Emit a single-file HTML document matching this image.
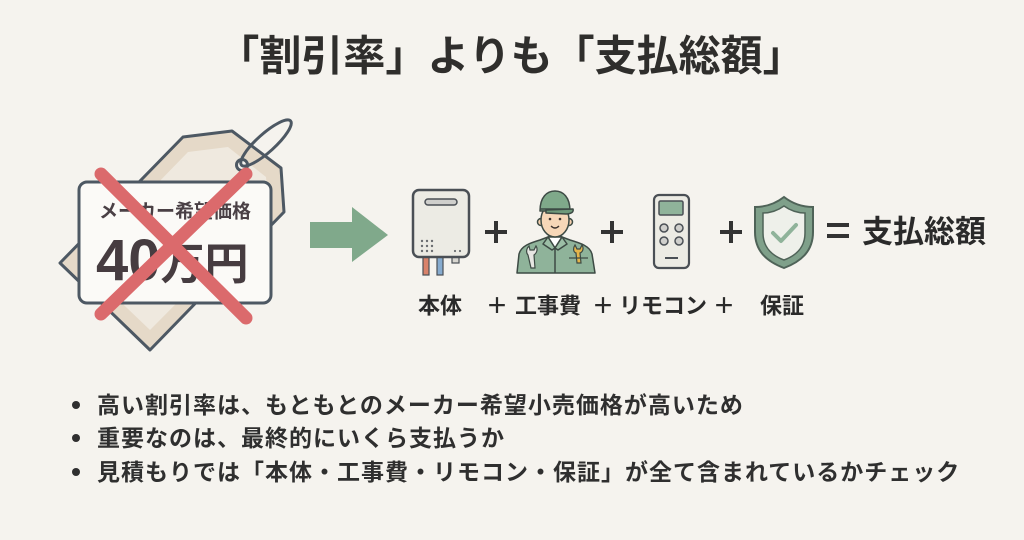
<!DOCTYPE html>
<html lang="ja">
<head>
<meta charset="utf-8">
<style>
  html,body{margin:0;padding:0;background:#f5f3ee;}
  body{width:1024px;height:540px;overflow:hidden;}
  svg{display:block;}
  .jp{font-family:"Liberation Sans","Noto Sans CJK JP",sans-serif;}
</style>
</head>
<body>
<svg width="1024" height="540" viewBox="0 0 1024 540" xmlns="http://www.w3.org/2000/svg">
  <rect width="1024" height="540" fill="#f5f3ee"/>

  <!-- Title -->
  <text class="jp" x="511" y="56" text-anchor="middle" dominant-baseline="central" font-size="42" font-weight="700" fill="#2f2e2c">「割引率」よりも「支払総額」</text>

  <!-- Back tag -->
  <polygon points="60,263 183,137 232,131 281,168 284,212 150,350" fill="#e5d9c8" stroke="#4d5863" stroke-width="3" stroke-linejoin="round"/>
  <polygon points="80,263 188,152 228,147 266,177 269,210 150,330" fill="#efe9df" stroke="none"/>
  <circle cx="242" cy="165" r="5.5" fill="#f5f3ee" stroke="#4d5863" stroke-width="3"/>
  <ellipse cx="266" cy="143" rx="33" ry="9" transform="rotate(-42 266 143)" fill="none" stroke="#4d5863" stroke-width="3"/>

  <!-- Front card -->
  <rect x="79" y="182" width="192" height="121" rx="8" fill="#fbfaf7" stroke="#4d5863" stroke-width="3"/>
  <text class="jp" x="175" y="212" text-anchor="middle" dominant-baseline="central" font-size="19" font-weight="700" fill="#4a4045">メーカー希望価格</text>
  <text class="jp" x="96" y="280" font-weight="700" fill="#463c40"><tspan font-size="58">40</tspan><tspan font-size="44" dy="-1">万円</tspan></text>

  <!-- Red X -->
  <line x1="101" y1="174" x2="246" y2="318" stroke="#db6a6c" stroke-width="13" stroke-linecap="round"/>
  <line x1="246" y1="174" x2="101" y2="314" stroke="#db6a6c" stroke-width="13" stroke-linecap="round"/>

  <!-- Green arrow -->
  <polygon points="310,222 352,222 352,207 388,235 352,262 352,248 310,248" fill="#80a98b"/>

  <!-- Water heater -->
  <rect x="423" y="255" width="6" height="20" fill="#d9826a" stroke="#4a4f55" stroke-width="1.2"/>
  <rect x="437" y="255" width="6" height="20" fill="#86abcf" stroke="#4a4f55" stroke-width="1.2"/>
  <rect x="452" y="255" width="7" height="8" fill="#d8d6d0" stroke="#4a4f55" stroke-width="1.2"/>
  <rect x="413" y="190" width="56" height="67" rx="6" fill="#ecebe4" stroke="#4a4f55" stroke-width="2.5"/>
  <rect x="425" y="199" width="32" height="6" rx="3" fill="#cfcfcc" stroke="#4a4f55" stroke-width="1.5"/>
  <g fill="#6a6d70">
    <circle cx="422" cy="241" r="1.2"/><circle cx="427" cy="241" r="1.2"/><circle cx="432" cy="241" r="1.2"/>
    <circle cx="422" cy="246" r="1.2"/><circle cx="427" cy="246" r="1.2"/><circle cx="432" cy="246" r="1.2"/>
    <circle cx="422" cy="251" r="1.2"/><circle cx="427" cy="251" r="1.2"/><circle cx="432" cy="251" r="1.2"/>
    <circle cx="455" cy="251" r="1.1"/><circle cx="460" cy="251" r="1.1"/>
  </g>

  <!-- Plus signs -->
  <g stroke="#333" stroke-width="4">
    <line x1="485" y1="232" x2="507" y2="232"/><line x1="496" y1="221" x2="496" y2="243"/>
    <line x1="601" y1="232" x2="623" y2="232"/><line x1="612" y1="221" x2="612" y2="243"/>
    <line x1="720" y1="232" x2="742" y2="232"/><line x1="731" y1="221" x2="731" y2="243"/>
  </g>

  <!-- Worker -->
  <g stroke="#3d4a44" stroke-width="1.5" stroke-linejoin="round">
    <path d="M517,273 L519,254 C521,246 530,243 540,240 L548,237 L562,237 L570,240 C580,243 590,246 592,254 L595,273 Z" fill="#8fb39a"/>
    <rect x="549" y="229" width="12" height="11" fill="#f3cfae"/>
    <path d="M548,237 L555,248 L562,237 Z" fill="#ffffff"/>
    <path d="M548,237 L543,244 L552,250 L555,248 Z" fill="#9cbea6"/>
    <path d="M562,237 L567,244 L558,250 L555,248 Z" fill="#9cbea6"/>
    <line x1="555" y1="248" x2="555" y2="273"/>
    <circle cx="541" cy="222" r="3.5" fill="#f3cfae"/>
    <circle cx="569" cy="222" r="3.5" fill="#f3cfae"/>
    <ellipse cx="555" cy="220" rx="14" ry="17" fill="#f6d7b8"/>
    <path d="M540,211 C540,197 547,191 555,191 C563,191 570,197 570,211 Z" fill="#7fa98a"/>
    <path d="M546,210 L573,209 C574,212 571,214 566,214 L546,213 Z" fill="#6f9a7b"/>
    <line x1="540" y1="209" x2="570" y2="209"/>
  </g>
  <circle cx="550" cy="219" r="1.3" fill="#3d3430"/>
  <circle cx="560" cy="219" r="1.3" fill="#3d3430"/>
  <path d="M551,226 Q555,230 559,226" fill="none" stroke="#3d3430" stroke-width="1.3"/>
  <g stroke="#3d4a44" stroke-width="1.2">
    <path d="M528,255 L531,268 L535,268 L534,255 C537,253 538,249 536,246 L534,250 L530,250 L529,246 C526,249 526,253 528,255 Z" fill="#e6e6e2"/>
    <path d="M576,253 L577,263 L581,263 L580,253 C583,252 584,248 582,245 L580,249 L577,249 L575,245 C573,248 573,252 576,253 Z" fill="#e5b54a"/>
    <line x1="569" y1="258" x2="588" y2="258"/>
  </g>

  <!-- Remote -->
  <rect x="654" y="195" width="35" height="73" rx="5" fill="#ecebe4" stroke="#4a4f55" stroke-width="2.2"/>
  <rect x="659" y="201" width="24" height="14" rx="1.5" fill="#8fb39a" stroke="#4a4f55" stroke-width="1.5"/>
  <g fill="#cfcfcc" stroke="#4a4f55" stroke-width="1.5">
    <circle cx="664" cy="228" r="4"/><circle cx="679" cy="228" r="4"/>
    <circle cx="664" cy="241" r="4"/><circle cx="679" cy="241" r="4"/>
  </g>
  <line x1="665" y1="258" x2="678" y2="258" stroke="#4a4f55" stroke-width="2"/>

  <!-- Shield -->
  <path d="M784,197 C775,204 765,207 755,207 L755,232 C755,252 768,262 784,268 C800,262 813,252 813,232 L813,207 C803,207 793,204 784,197 Z" fill="#7fa08a" stroke="#4f6358" stroke-width="2"/>
  <path d="M784,206 C777,211 770,213 763,213 L763,233 C763,248 773,256 784,260 C795,256 805,248 805,233 L805,213 C798,213 791,211 784,206 Z" fill="#eef0ea" stroke="#4f6358" stroke-width="1.5"/>
  <polyline points="773,233 781,241 796,225" fill="none" stroke="#8fb39a" stroke-width="4" stroke-linecap="round" stroke-linejoin="round"/>

  <!-- Equals & total -->
  <g stroke="#333" stroke-width="4">
    <line x1="827" y1="225" x2="849" y2="225"/>
    <line x1="827" y1="236" x2="849" y2="236"/>
  </g>
  <text class="jp" x="924" y="232" text-anchor="middle" dominant-baseline="central" font-size="31" font-weight="700" fill="#2a2a2a">支払総額</text>

  <!-- Labels -->
  <g class="jp" font-size="22" font-weight="700" fill="#2a2a2a" dominant-baseline="central" text-anchor="middle">
    <text x="440" y="306">本体</text>
    <text x="497" y="306">＋</text>
    <text x="548" y="306">工事費</text>
    <text x="603" y="306">＋</text>
    <text x="663" y="306">リモコン</text>
    <text x="724" y="306">＋</text>
    <text x="782" y="306">保証</text>
  </g>

  <!-- Bullets -->
  <g fill="#2f2f2f">
    <circle cx="76" cy="405" r="4"/>
    <circle cx="76" cy="438" r="4"/>
    <circle cx="76" cy="472" r="4"/>
  </g>
  <g class="jp" font-size="23" font-weight="700" fill="#2f2f2f" dominant-baseline="central" letter-spacing="1">
    <text x="97" y="405">高い割引率は、もともとのメーカー希望小売価格が高いため</text>
    <text x="97" y="438">重要なのは、最終的にいくら支払うか</text>
    <text x="97" y="472">見積もりでは「本体・工事費・リモコン・保証」が全て含まれているかチェック</text>
  </g>
</svg>
</body>
</html>
